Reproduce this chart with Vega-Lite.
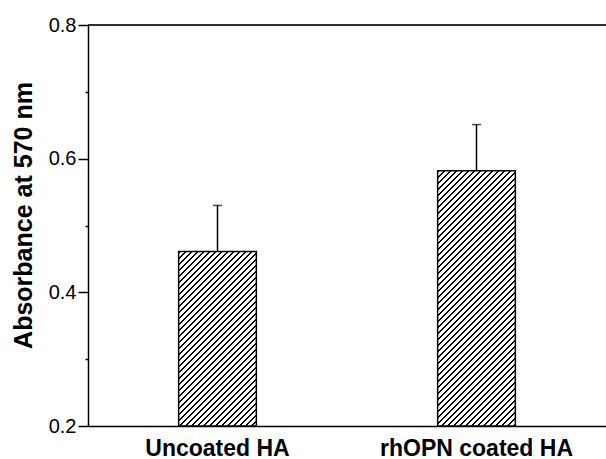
{
  "$schema": "https://vega.github.io/schema/vega-lite/v6.json",
  "autosize": "none",
  "padding": {"left": 88, "top": 25, "right": 0, "bottom": 33},
  "width": 518,
  "height": 401,
  "background": "white",
  "config": {
    "view": {"stroke": null},
    "font": "Liberation Sans"
  },
  "data": {
    "values": [
      {"group": "Uncoated HA", "value": 0.461, "upper": 0.530},
      {"group": "rhOPN coated HA", "value": 0.582, "upper": 0.651}
    ]
  },
  "encoding": {
    "x": {
      "field": "group",
      "type": "nominal",
      "sort": null,
      "scale": {"paddingInner": 0.7, "paddingOuter": 0.35},
      "axis": {
        "title": null,
        "labelAngle": 0,
        "labelLimit": 0,
        "labelFont": "Liberation Sans",
        "labelFontSize": 23,
        "labelFontWeight": "bold",
        "labelColor": "black",
        "labelPadding": 11,
        "ticks": false,
        "domainColor": "black",
        "domainWidth": 1.5
      }
    }
  },
  "layer": [
    {
      "mark": {"type": "rule", "color": "#222", "strokeWidth": 1.5},
      "encoding": {"x": null, "y": {"datum": 0.8, "type": "quantitative"}}
    },
    {
      "mark": {"type": "bar", "stroke": "black", "strokeWidth": 1.5},
      "encoding": {
        "y": {
          "field": "value",
          "type": "quantitative",
          "scale": {"domain": [0.2, 0.8], "zero": false, "nice": false},
          "axis": {
            "values": [0.2, 0.3, 0.4, 0.5, 0.6, 0.7, 0.8],
            "labelExpr": "round(datum.value*10) % 2 == 0 ? format(datum.value, '.1f') : ''",
            "tickSize": {"condition": {"test": "round(datum.value*10) % 2 == 0", "value": 10}, "value": 3},
            "tickColor": "black",
            "tickWidth": 1.5,
            "domainColor": "black",
            "domainWidth": 1.5,
            "grid": false,
            "labelFont": "Liberation Sans",
            "labelFontSize": 20,
            "labelColor": "black",
            "labelPadding": 2,
            "title": "Absorbance at 570 nm",
            "titleFont": "Liberation Sans",
            "titleFontSize": 25,
            "titleFontWeight": "bold",
            "titleColor": "black",
            "titleAngle": -90,
            "titleAlign": "center",
            "titleBaseline": "alphabetic",
            "titleX": -57,
            "titleY": 190
          }
        },
        "y2": {"datum": 0.2},
        "fill": {
          "condition": {
            "test": "datum.group == 'Uncoated HA'",
            "value": {
              "gradient": "linear", "x1": 0, "y1": 0, "x2": 0.8526, "y2": 1.9138,
              "stops": [
{"offset":0,"color":"#000"},{"offset":0.006,"color":"#000"},{"offset":0.006,"color":"#fff"},{"offset":0.015,"color":"#fff"},
{"offset":0.015,"color":"#000"},{"offset":0.021,"color":"#000"},{"offset":0.021,"color":"#fff"},{"offset":0.03,"color":"#fff"},
{"offset":0.03,"color":"#000"},{"offset":0.036,"color":"#000"},{"offset":0.036,"color":"#fff"},{"offset":0.045,"color":"#fff"},
{"offset":0.045,"color":"#000"},{"offset":0.051,"color":"#000"},{"offset":0.051,"color":"#fff"},{"offset":0.06,"color":"#fff"},
{"offset":0.06,"color":"#000"},{"offset":0.066,"color":"#000"},{"offset":0.066,"color":"#fff"},{"offset":0.075,"color":"#fff"},
{"offset":0.075,"color":"#000"},{"offset":0.081,"color":"#000"},{"offset":0.081,"color":"#fff"},{"offset":0.09,"color":"#fff"},
{"offset":0.09,"color":"#000"},{"offset":0.096,"color":"#000"},{"offset":0.096,"color":"#fff"},{"offset":0.105,"color":"#fff"},
{"offset":0.105,"color":"#000"},{"offset":0.111,"color":"#000"},{"offset":0.111,"color":"#fff"},{"offset":0.12,"color":"#fff"},
{"offset":0.12,"color":"#000"},{"offset":0.126,"color":"#000"},{"offset":0.126,"color":"#fff"},{"offset":0.135,"color":"#fff"},
{"offset":0.135,"color":"#000"},{"offset":0.141,"color":"#000"},{"offset":0.141,"color":"#fff"},{"offset":0.15,"color":"#fff"},
{"offset":0.15,"color":"#000"},{"offset":0.156,"color":"#000"},{"offset":0.156,"color":"#fff"},{"offset":0.165,"color":"#fff"},
{"offset":0.165,"color":"#000"},{"offset":0.171,"color":"#000"},{"offset":0.171,"color":"#fff"},{"offset":0.18,"color":"#fff"},
{"offset":0.18,"color":"#000"},{"offset":0.186,"color":"#000"},{"offset":0.186,"color":"#fff"},{"offset":0.195,"color":"#fff"},
{"offset":0.195,"color":"#000"},{"offset":0.201,"color":"#000"},{"offset":0.201,"color":"#fff"},{"offset":0.21,"color":"#fff"},
{"offset":0.21,"color":"#000"},{"offset":0.216,"color":"#000"},{"offset":0.216,"color":"#fff"},{"offset":0.225,"color":"#fff"},
{"offset":0.225,"color":"#000"},{"offset":0.231,"color":"#000"},{"offset":0.231,"color":"#fff"},{"offset":0.24,"color":"#fff"},
{"offset":0.24,"color":"#000"},{"offset":0.246,"color":"#000"},{"offset":0.246,"color":"#fff"},{"offset":0.255,"color":"#fff"},
{"offset":0.255,"color":"#000"},{"offset":0.261,"color":"#000"},{"offset":0.261,"color":"#fff"},{"offset":0.27,"color":"#fff"},
{"offset":0.27,"color":"#000"},{"offset":0.276,"color":"#000"},{"offset":0.276,"color":"#fff"},{"offset":0.285,"color":"#fff"},
{"offset":0.285,"color":"#000"},{"offset":0.291,"color":"#000"},{"offset":0.291,"color":"#fff"},{"offset":0.3,"color":"#fff"},
{"offset":0.3,"color":"#000"},{"offset":0.306,"color":"#000"},{"offset":0.306,"color":"#fff"},{"offset":0.315,"color":"#fff"},
{"offset":0.315,"color":"#000"},{"offset":0.321,"color":"#000"},{"offset":0.321,"color":"#fff"},{"offset":0.33,"color":"#fff"},
{"offset":0.33,"color":"#000"},{"offset":0.336,"color":"#000"},{"offset":0.336,"color":"#fff"},{"offset":0.345,"color":"#fff"},
{"offset":0.345,"color":"#000"},{"offset":0.351,"color":"#000"},{"offset":0.351,"color":"#fff"},{"offset":0.36,"color":"#fff"},
{"offset":0.36,"color":"#000"},{"offset":0.366,"color":"#000"},{"offset":0.366,"color":"#fff"},{"offset":0.375,"color":"#fff"},
{"offset":0.375,"color":"#000"},{"offset":0.381,"color":"#000"},{"offset":0.381,"color":"#fff"},{"offset":0.39,"color":"#fff"},
{"offset":0.39,"color":"#000"},{"offset":0.396,"color":"#000"},{"offset":0.396,"color":"#fff"},{"offset":0.405,"color":"#fff"},
{"offset":0.405,"color":"#000"},{"offset":0.411,"color":"#000"},{"offset":0.411,"color":"#fff"},{"offset":0.42,"color":"#fff"},
{"offset":0.42,"color":"#000"},{"offset":0.426,"color":"#000"},{"offset":0.426,"color":"#fff"},{"offset":0.435,"color":"#fff"},
{"offset":0.435,"color":"#000"},{"offset":0.441,"color":"#000"},{"offset":0.441,"color":"#fff"},{"offset":0.45,"color":"#fff"},
{"offset":0.45,"color":"#000"},{"offset":0.456,"color":"#000"},{"offset":0.456,"color":"#fff"},{"offset":0.465,"color":"#fff"},
{"offset":0.465,"color":"#000"},{"offset":0.471,"color":"#000"},{"offset":0.471,"color":"#fff"},{"offset":0.48,"color":"#fff"},
{"offset":0.48,"color":"#000"},{"offset":0.486,"color":"#000"},{"offset":0.486,"color":"#fff"},{"offset":0.495,"color":"#fff"},
{"offset":0.495,"color":"#000"},{"offset":0.501,"color":"#000"},{"offset":0.501,"color":"#fff"},{"offset":0.51,"color":"#fff"},
{"offset":0.51,"color":"#000"},{"offset":0.516,"color":"#000"},{"offset":0.516,"color":"#fff"},{"offset":0.525,"color":"#fff"},
{"offset":0.525,"color":"#000"},{"offset":0.531,"color":"#000"},{"offset":0.531,"color":"#fff"},{"offset":0.54,"color":"#fff"},
{"offset":0.54,"color":"#000"},{"offset":0.546,"color":"#000"},{"offset":0.546,"color":"#fff"},{"offset":0.555,"color":"#fff"},
{"offset":0.555,"color":"#000"},{"offset":0.561,"color":"#000"},{"offset":0.561,"color":"#fff"},{"offset":0.57,"color":"#fff"},
{"offset":0.57,"color":"#000"},{"offset":0.576,"color":"#000"},{"offset":0.576,"color":"#fff"},{"offset":0.585,"color":"#fff"},
{"offset":0.585,"color":"#000"},{"offset":0.591,"color":"#000"},{"offset":0.591,"color":"#fff"},{"offset":0.6,"color":"#fff"},
{"offset":0.6,"color":"#000"},{"offset":0.606,"color":"#000"},{"offset":0.606,"color":"#fff"},{"offset":0.615,"color":"#fff"},
{"offset":0.615,"color":"#000"},{"offset":0.621,"color":"#000"},{"offset":0.621,"color":"#fff"},{"offset":0.63,"color":"#fff"},
{"offset":0.63,"color":"#000"},{"offset":0.636,"color":"#000"},{"offset":0.636,"color":"#fff"},{"offset":0.645,"color":"#fff"},
{"offset":0.645,"color":"#000"},{"offset":0.651,"color":"#000"},{"offset":0.651,"color":"#fff"},{"offset":1,"color":"#fff"}
              ]
            }
          },
          "value": {
            "gradient": "linear", "x1": 0, "y1": 0, "x2": 0.4364, "y2": 1.434,
            "stops": [
{"offset":0,"color":"#000"},{"offset":0.006,"color":"#000"},{"offset":0.006,"color":"#fff"},{"offset":0.015,"color":"#fff"},
{"offset":0.015,"color":"#000"},{"offset":0.021,"color":"#000"},{"offset":0.021,"color":"#fff"},{"offset":0.03,"color":"#fff"},
{"offset":0.03,"color":"#000"},{"offset":0.036,"color":"#000"},{"offset":0.036,"color":"#fff"},{"offset":0.045,"color":"#fff"},
{"offset":0.045,"color":"#000"},{"offset":0.051,"color":"#000"},{"offset":0.051,"color":"#fff"},{"offset":0.06,"color":"#fff"},
{"offset":0.06,"color":"#000"},{"offset":0.066,"color":"#000"},{"offset":0.066,"color":"#fff"},{"offset":0.075,"color":"#fff"},
{"offset":0.075,"color":"#000"},{"offset":0.081,"color":"#000"},{"offset":0.081,"color":"#fff"},{"offset":0.09,"color":"#fff"},
{"offset":0.09,"color":"#000"},{"offset":0.096,"color":"#000"},{"offset":0.096,"color":"#fff"},{"offset":0.105,"color":"#fff"},
{"offset":0.105,"color":"#000"},{"offset":0.111,"color":"#000"},{"offset":0.111,"color":"#fff"},{"offset":0.12,"color":"#fff"},
{"offset":0.12,"color":"#000"},{"offset":0.126,"color":"#000"},{"offset":0.126,"color":"#fff"},{"offset":0.135,"color":"#fff"},
{"offset":0.135,"color":"#000"},{"offset":0.141,"color":"#000"},{"offset":0.141,"color":"#fff"},{"offset":0.15,"color":"#fff"},
{"offset":0.15,"color":"#000"},{"offset":0.156,"color":"#000"},{"offset":0.156,"color":"#fff"},{"offset":0.165,"color":"#fff"},
{"offset":0.165,"color":"#000"},{"offset":0.171,"color":"#000"},{"offset":0.171,"color":"#fff"},{"offset":0.18,"color":"#fff"},
{"offset":0.18,"color":"#000"},{"offset":0.186,"color":"#000"},{"offset":0.186,"color":"#fff"},{"offset":0.195,"color":"#fff"},
{"offset":0.195,"color":"#000"},{"offset":0.201,"color":"#000"},{"offset":0.201,"color":"#fff"},{"offset":0.21,"color":"#fff"},
{"offset":0.21,"color":"#000"},{"offset":0.216,"color":"#000"},{"offset":0.216,"color":"#fff"},{"offset":0.225,"color":"#fff"},
{"offset":0.225,"color":"#000"},{"offset":0.231,"color":"#000"},{"offset":0.231,"color":"#fff"},{"offset":0.24,"color":"#fff"},
{"offset":0.24,"color":"#000"},{"offset":0.246,"color":"#000"},{"offset":0.246,"color":"#fff"},{"offset":0.255,"color":"#fff"},
{"offset":0.255,"color":"#000"},{"offset":0.261,"color":"#000"},{"offset":0.261,"color":"#fff"},{"offset":0.27,"color":"#fff"},
{"offset":0.27,"color":"#000"},{"offset":0.276,"color":"#000"},{"offset":0.276,"color":"#fff"},{"offset":0.285,"color":"#fff"},
{"offset":0.285,"color":"#000"},{"offset":0.291,"color":"#000"},{"offset":0.291,"color":"#fff"},{"offset":0.3,"color":"#fff"},
{"offset":0.3,"color":"#000"},{"offset":0.306,"color":"#000"},{"offset":0.306,"color":"#fff"},{"offset":0.315,"color":"#fff"},
{"offset":0.315,"color":"#000"},{"offset":0.321,"color":"#000"},{"offset":0.321,"color":"#fff"},{"offset":0.33,"color":"#fff"},
{"offset":0.33,"color":"#000"},{"offset":0.336,"color":"#000"},{"offset":0.336,"color":"#fff"},{"offset":0.345,"color":"#fff"},
{"offset":0.345,"color":"#000"},{"offset":0.351,"color":"#000"},{"offset":0.351,"color":"#fff"},{"offset":0.36,"color":"#fff"},
{"offset":0.36,"color":"#000"},{"offset":0.366,"color":"#000"},{"offset":0.366,"color":"#fff"},{"offset":0.375,"color":"#fff"},
{"offset":0.375,"color":"#000"},{"offset":0.381,"color":"#000"},{"offset":0.381,"color":"#fff"},{"offset":0.39,"color":"#fff"},
{"offset":0.39,"color":"#000"},{"offset":0.396,"color":"#000"},{"offset":0.396,"color":"#fff"},{"offset":0.405,"color":"#fff"},
{"offset":0.405,"color":"#000"},{"offset":0.411,"color":"#000"},{"offset":0.411,"color":"#fff"},{"offset":0.42,"color":"#fff"},
{"offset":0.42,"color":"#000"},{"offset":0.426,"color":"#000"},{"offset":0.426,"color":"#fff"},{"offset":0.435,"color":"#fff"},
{"offset":0.435,"color":"#000"},{"offset":0.441,"color":"#000"},{"offset":0.441,"color":"#fff"},{"offset":0.45,"color":"#fff"},
{"offset":0.45,"color":"#000"},{"offset":0.456,"color":"#000"},{"offset":0.456,"color":"#fff"},{"offset":0.465,"color":"#fff"},
{"offset":0.465,"color":"#000"},{"offset":0.471,"color":"#000"},{"offset":0.471,"color":"#fff"},{"offset":0.48,"color":"#fff"},
{"offset":0.48,"color":"#000"},{"offset":0.486,"color":"#000"},{"offset":0.486,"color":"#fff"},{"offset":0.495,"color":"#fff"},
{"offset":0.495,"color":"#000"},{"offset":0.501,"color":"#000"},{"offset":0.501,"color":"#fff"},{"offset":0.51,"color":"#fff"},
{"offset":0.51,"color":"#000"},{"offset":0.516,"color":"#000"},{"offset":0.516,"color":"#fff"},{"offset":0.525,"color":"#fff"},
{"offset":0.525,"color":"#000"},{"offset":0.531,"color":"#000"},{"offset":0.531,"color":"#fff"},{"offset":0.54,"color":"#fff"},
{"offset":0.54,"color":"#000"},{"offset":0.546,"color":"#000"},{"offset":0.546,"color":"#fff"},{"offset":0.555,"color":"#fff"},
{"offset":0.555,"color":"#000"},{"offset":0.561,"color":"#000"},{"offset":0.561,"color":"#fff"},{"offset":0.57,"color":"#fff"},
{"offset":0.57,"color":"#000"},{"offset":0.576,"color":"#000"},{"offset":0.576,"color":"#fff"},{"offset":0.585,"color":"#fff"},
{"offset":0.585,"color":"#000"},{"offset":0.591,"color":"#000"},{"offset":0.591,"color":"#fff"},{"offset":0.6,"color":"#fff"},
{"offset":0.6,"color":"#000"},{"offset":0.606,"color":"#000"},{"offset":0.606,"color":"#fff"},{"offset":0.615,"color":"#fff"},
{"offset":0.615,"color":"#000"},{"offset":0.621,"color":"#000"},{"offset":0.621,"color":"#fff"},{"offset":0.63,"color":"#fff"},
{"offset":0.63,"color":"#000"},{"offset":0.636,"color":"#000"},{"offset":0.636,"color":"#fff"},{"offset":0.645,"color":"#fff"},
{"offset":0.645,"color":"#000"},{"offset":0.651,"color":"#000"},{"offset":0.651,"color":"#fff"},{"offset":0.66,"color":"#fff"},
{"offset":0.66,"color":"#000"},{"offset":0.666,"color":"#000"},{"offset":0.666,"color":"#fff"},{"offset":0.675,"color":"#fff"},
{"offset":0.675,"color":"#000"},{"offset":0.681,"color":"#000"},{"offset":0.681,"color":"#fff"},{"offset":0.69,"color":"#fff"},
{"offset":0.69,"color":"#000"},{"offset":0.696,"color":"#000"},{"offset":0.696,"color":"#fff"},{"offset":0.705,"color":"#fff"},
{"offset":0.705,"color":"#000"},{"offset":0.711,"color":"#000"},{"offset":0.711,"color":"#fff"},{"offset":0.72,"color":"#fff"},
{"offset":0.72,"color":"#000"},{"offset":0.726,"color":"#000"},{"offset":0.726,"color":"#fff"},{"offset":0.735,"color":"#fff"},
{"offset":0.735,"color":"#000"},{"offset":0.741,"color":"#000"},{"offset":0.741,"color":"#fff"},{"offset":0.75,"color":"#fff"},
{"offset":0.75,"color":"#000"},{"offset":0.756,"color":"#000"},{"offset":0.756,"color":"#fff"},{"offset":0.765,"color":"#fff"},
{"offset":0.765,"color":"#000"},{"offset":0.771,"color":"#000"},{"offset":0.771,"color":"#fff"},{"offset":0.78,"color":"#fff"},
{"offset":0.78,"color":"#000"},{"offset":0.786,"color":"#000"},{"offset":0.786,"color":"#fff"},{"offset":0.795,"color":"#fff"},
{"offset":0.795,"color":"#000"},{"offset":0.801,"color":"#000"},{"offset":0.801,"color":"#fff"},{"offset":0.81,"color":"#fff"},
{"offset":0.81,"color":"#000"},{"offset":0.816,"color":"#000"},{"offset":0.816,"color":"#fff"},{"offset":0.825,"color":"#fff"},
{"offset":0.825,"color":"#000"},{"offset":0.831,"color":"#000"},{"offset":0.831,"color":"#fff"},{"offset":0.84,"color":"#fff"},
{"offset":0.84,"color":"#000"},{"offset":0.846,"color":"#000"},{"offset":0.846,"color":"#fff"},{"offset":1,"color":"#fff"}
            ]
          }
        }
      }
    },
    {
      "mark": {"type": "rule", "color": "black", "strokeWidth": 1.5},
      "encoding": {
        "y": {"field": "value", "type": "quantitative"},
        "y2": {"field": "upper"}
      }
    },
    {
      "mark": {"type": "tick", "color": "black", "thickness": 1.5, "size": 9},
      "encoding": {
        "y": {"field": "upper", "type": "quantitative"}
      }
    }
  ]
}
